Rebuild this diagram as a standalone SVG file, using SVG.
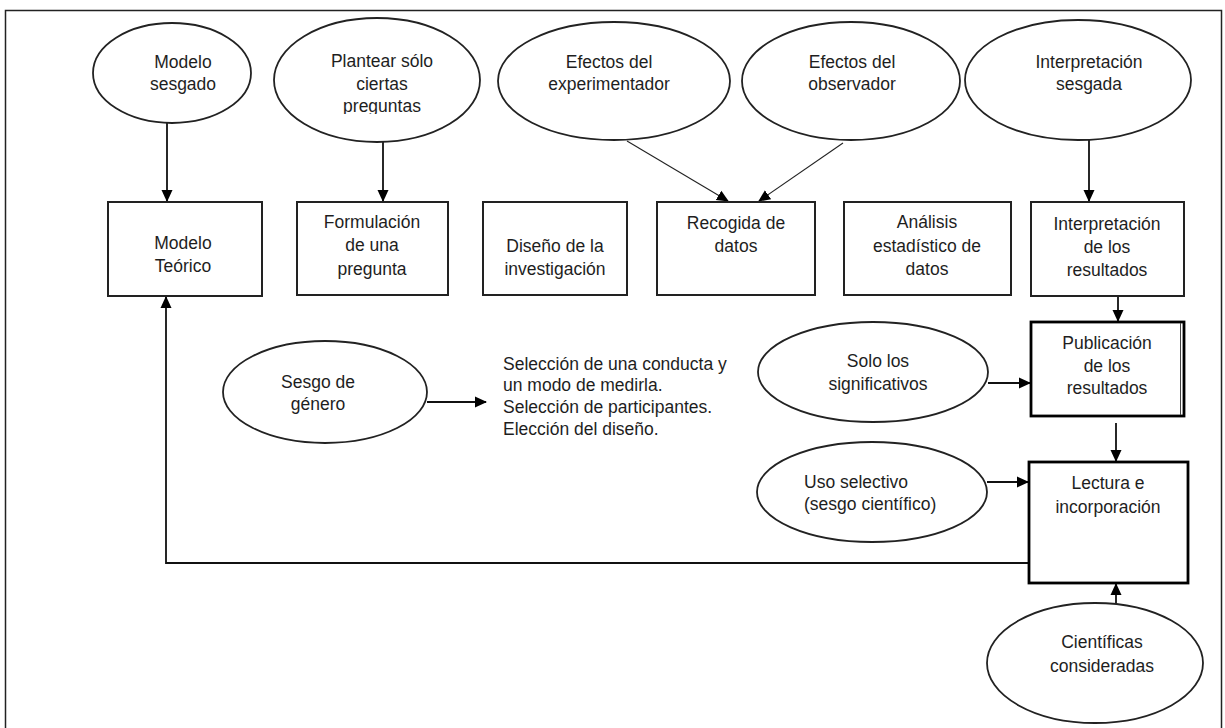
<svg xmlns="http://www.w3.org/2000/svg" width="1225" height="728" viewBox="0 0 1225 728">
  <defs>
    <style>
      text { font-family: "Liberation Sans", Arial, sans-serif; font-size: 17.5px; fill: #1e1e1e; text-anchor: middle; }
      .ell { fill: #fff; stroke: #222; stroke-width: 1.8; }
      .box { fill: #fff; stroke: #222; stroke-width: 2; }
      .bold { fill: #fff; stroke: #000; stroke-width: 2.8; }
      .conn { fill: none; stroke: #111; stroke-width: 1.8; }
      .thin { fill: none; stroke: #222; stroke-width: 1.1; }
    </style>
    <marker id="arr" markerUnits="userSpaceOnUse" markerWidth="12" markerHeight="12" viewBox="0 0 12 12" refX="11" refY="6" orient="auto">
      <path d="M0,0.5 L12,6 L0,11.5 Z" fill="#000"/>
    </marker>
    <clipPath id="clipPreg">
      <rect x="300" y="95" width="170" height="19"/>
    </clipPath>
  </defs>
  <rect x="0" y="0" width="1225" height="728" fill="#fff"/>
  <rect x="5.5" y="10.5" width="1216" height="730" fill="none" stroke="#222" stroke-width="1.5"/>

  <g id="connectors">
    <path class="conn" d="M167,123 V201" marker-end="url(#arr)"/>
    <path class="conn" d="M383,142 V201" marker-end="url(#arr)"/>
    <path class="thin" d="M627,141 L728,201" marker-end="url(#arr)"/>
    <path class="thin" d="M843,143 L759,201" marker-end="url(#arr)"/>
    <path class="conn" d="M1089,140 V201" marker-end="url(#arr)"/>
    <path class="conn" d="M1118,297 V321" marker-end="url(#arr)"/>
    <path class="conn" d="M427,402 H486" marker-end="url(#arr)"/>
    <path class="conn" d="M988,383 H1030" marker-end="url(#arr)"/>
    <path class="conn" d="M1116,423 V461" marker-end="url(#arr)"/>
    <path class="conn" d="M987,482 H1028" marker-end="url(#arr)"/>
    <path class="conn" d="M1116,603 V584" marker-end="url(#arr)"/>
    <path class="conn" d="M1029,563 H166 V297" marker-end="url(#arr)"/>
  </g>

  <g id="modelo-sesgado">
    <ellipse class="ell" cx="172" cy="73" rx="79" ry="50"/>
    <text x="183" y="68">Modelo</text>
    <text x="183" y="90">sesgado</text>
  </g>
  <g id="plantear">
    <ellipse class="ell" cx="377" cy="80" rx="103" ry="62"/>
    <text x="382" y="67">Plantear sólo</text>
    <text x="382" y="90">ciertas</text>
    <text x="382" y="112" clip-path="url(#clipPreg)">preguntas</text>
  </g>
  <g id="efectos-experimentador">
    <ellipse class="ell" cx="614" cy="81" rx="116" ry="59"/>
    <text x="609" y="68">Efectos del</text>
    <text x="609" y="90">experimentador</text>
  </g>
  <g id="efectos-observador">
    <ellipse class="ell" cx="851" cy="81" rx="109" ry="59"/>
    <text x="852" y="68">Efectos del</text>
    <text x="852" y="90">observador</text>
  </g>
  <g id="interpretacion-sesgada">
    <ellipse class="ell" cx="1078" cy="80" rx="113" ry="60"/>
    <text x="1089" y="68">Interpretación</text>
    <text x="1089" y="90">sesgada</text>
  </g>

  <g id="modelo-teorico">
    <rect class="box" x="108" y="202" width="154" height="94"/>
    <text x="183" y="249">Modelo</text>
    <text x="183" y="272">Teórico</text>
  </g>
  <g id="formulacion">
    <rect class="box" x="297" y="202" width="151" height="93"/>
    <text x="372" y="228">Formulación</text>
    <text x="372" y="251">de una</text>
    <text x="372" y="275">pregunta</text>
  </g>
  <g id="diseno">
    <rect class="box" x="483" y="202" width="144" height="93"/>
    <text x="555" y="252">Diseño de la</text>
    <text x="555" y="275">investigación</text>
  </g>
  <g id="recogida">
    <rect class="box" x="657" y="202" width="158" height="93"/>
    <text x="736" y="229">Recogida de</text>
    <text x="736" y="252">datos</text>
  </g>
  <g id="analisis">
    <rect class="box" x="844" y="202" width="167" height="93"/>
    <text x="927" y="228">Análisis</text>
    <text x="927" y="252">estadístico de</text>
    <text x="927" y="275">datos</text>
  </g>
  <g id="interpretacion-resultados">
    <rect class="box" x="1031" y="202" width="153" height="94"/>
    <text x="1107" y="230">Interpretación</text>
    <text x="1107" y="253">de los</text>
    <text x="1107" y="276">resultados</text>
  </g>

  <g id="publicacion">
    <rect class="bold" x="1031" y="322" width="153" height="94"/>
    <line x1="1180.5" y1="323" x2="1180.5" y2="415" stroke="#444" stroke-width="1"/>
    <text x="1107" y="349">Publicación</text>
    <text x="1107" y="372">de los</text>
    <text x="1107" y="394">resultados</text>
  </g>
  <g id="lectura">
    <rect class="bold" x="1029" y="462" width="159" height="121"/>
    <text x="1108" y="489">Lectura e</text>
    <text x="1108" y="513">incorporación</text>
  </g>

  <g id="sesgo-genero">
    <ellipse class="ell" cx="325" cy="392" rx="102" ry="51"/>
    <text x="318" y="388">Sesgo de</text>
    <text x="318" y="410">género</text>
  </g>
  <g id="seleccion-texto">
    <text x="503" y="370" style="text-anchor:start">Selección de una conducta y</text>
    <text x="503" y="391" style="text-anchor:start">un modo de medirla.</text>
    <text x="503" y="413" style="text-anchor:start">Selección de participantes.</text>
    <text x="503" y="435" style="text-anchor:start">Elección del diseño.</text>
  </g>
  <g id="solo-significativos">
    <ellipse class="ell" cx="873" cy="372" rx="115" ry="50"/>
    <text x="878" y="367">Solo los</text>
    <text x="878" y="390">significativos</text>
  </g>
  <g id="uso-selectivo">
    <ellipse class="ell" cx="872" cy="492" rx="115" ry="50"/>
    <text x="804" y="488" style="text-anchor:start">Uso selectivo</text>
    <text x="804" y="510" style="text-anchor:start">(sesgo científico)</text>
  </g>
  <g id="cientificas">
    <ellipse class="ell" cx="1095" cy="663" rx="108" ry="60"/>
    <text x="1102" y="648">Científicas</text>
    <text x="1102" y="672">consideradas</text>
  </g>
</svg>
